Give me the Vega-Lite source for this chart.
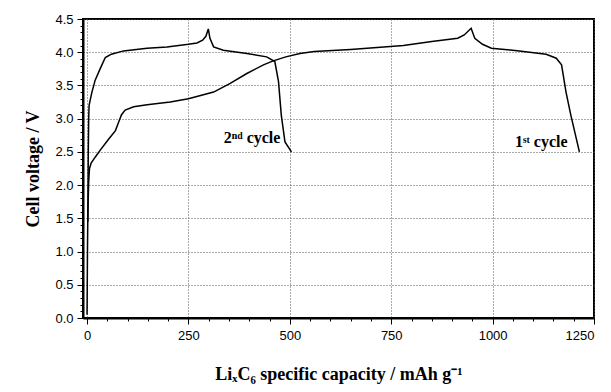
{
  "$schema": "https://vega.github.io/schema/vega-lite/v6.json",
  "autosize": {"type": "none"},
  "padding": {"left": 83, "top": 19, "right": 17, "bottom": 74},
  "width": 511,
  "height": 299,
  "background": "white",
  "config": {"font": "Liberation Sans", "view": {"stroke": "black", "strokeWidth": 2}},
  "datasets": {
    "curves": [
      {"cycle": "1st", "i": 1, "q": 0, "v": 0.05},
      {"cycle": "1st", "i": 2, "q": 1, "v": 1.0},
      {"cycle": "1st", "i": 3, "q": 2, "v": 1.6},
      {"cycle": "1st", "i": 4, "q": 4, "v": 2.05},
      {"cycle": "1st", "i": 5, "q": 6, "v": 2.25},
      {"cycle": "1st", "i": 6, "q": 10, "v": 2.33},
      {"cycle": "1st", "i": 7, "q": 20, "v": 2.42},
      {"cycle": "1st", "i": 8, "q": 33, "v": 2.53},
      {"cycle": "1st", "i": 9, "q": 53, "v": 2.69},
      {"cycle": "1st", "i": 10, "q": 70, "v": 2.82},
      {"cycle": "1st", "i": 11, "q": 78, "v": 2.95},
      {"cycle": "1st", "i": 12, "q": 85, "v": 3.06},
      {"cycle": "1st", "i": 13, "q": 94, "v": 3.13},
      {"cycle": "1st", "i": 14, "q": 115, "v": 3.18},
      {"cycle": "1st", "i": 15, "q": 148, "v": 3.21},
      {"cycle": "1st", "i": 16, "q": 205, "v": 3.25},
      {"cycle": "1st", "i": 17, "q": 250, "v": 3.3},
      {"cycle": "1st", "i": 18, "q": 312, "v": 3.4},
      {"cycle": "1st", "i": 19, "q": 353, "v": 3.53},
      {"cycle": "1st", "i": 20, "q": 394, "v": 3.68},
      {"cycle": "1st", "i": 21, "q": 435, "v": 3.81},
      {"cycle": "1st", "i": 22, "q": 459, "v": 3.87},
      {"cycle": "1st", "i": 23, "q": 490, "v": 3.93},
      {"cycle": "1st", "i": 24, "q": 525, "v": 3.98},
      {"cycle": "1st", "i": 25, "q": 560, "v": 4.01},
      {"cycle": "1st", "i": 26, "q": 650, "v": 4.04},
      {"cycle": "1st", "i": 27, "q": 780, "v": 4.1},
      {"cycle": "1st", "i": 28, "q": 850, "v": 4.16},
      {"cycle": "1st", "i": 29, "q": 914, "v": 4.21},
      {"cycle": "1st", "i": 30, "q": 930, "v": 4.26},
      {"cycle": "1st", "i": 31, "q": 947, "v": 4.36},
      {"cycle": "1st", "i": 32, "q": 956, "v": 4.21},
      {"cycle": "1st", "i": 33, "q": 975, "v": 4.12},
      {"cycle": "1st", "i": 34, "q": 997, "v": 4.06},
      {"cycle": "1st", "i": 35, "q": 1066, "v": 4.02},
      {"cycle": "1st", "i": 36, "q": 1132, "v": 3.97},
      {"cycle": "1st", "i": 37, "q": 1157, "v": 3.91},
      {"cycle": "1st", "i": 38, "q": 1170, "v": 3.81},
      {"cycle": "1st", "i": 39, "q": 1181, "v": 3.4},
      {"cycle": "1st", "i": 40, "q": 1193, "v": 3.05},
      {"cycle": "1st", "i": 41, "q": 1214, "v": 2.5},
      {"cycle": "2nd", "i": 1, "q": 2, "v": 1.45},
      {"cycle": "2nd", "i": 2, "q": 3, "v": 2.5},
      {"cycle": "2nd", "i": 3, "q": 4, "v": 3.0},
      {"cycle": "2nd", "i": 4, "q": 5, "v": 3.2},
      {"cycle": "2nd", "i": 5, "q": 12, "v": 3.4},
      {"cycle": "2nd", "i": 6, "q": 20, "v": 3.58},
      {"cycle": "2nd", "i": 7, "q": 33, "v": 3.76},
      {"cycle": "2nd", "i": 8, "q": 45, "v": 3.92},
      {"cycle": "2nd", "i": 9, "q": 60, "v": 3.97},
      {"cycle": "2nd", "i": 10, "q": 90, "v": 4.02},
      {"cycle": "2nd", "i": 11, "q": 148, "v": 4.06},
      {"cycle": "2nd", "i": 12, "q": 197, "v": 4.08},
      {"cycle": "2nd", "i": 13, "q": 250, "v": 4.12},
      {"cycle": "2nd", "i": 14, "q": 271, "v": 4.14},
      {"cycle": "2nd", "i": 15, "q": 285, "v": 4.18},
      {"cycle": "2nd", "i": 16, "q": 293, "v": 4.24},
      {"cycle": "2nd", "i": 17, "q": 299, "v": 4.35},
      {"cycle": "2nd", "i": 18, "q": 303, "v": 4.21},
      {"cycle": "2nd", "i": 19, "q": 312, "v": 4.08},
      {"cycle": "2nd", "i": 20, "q": 336, "v": 4.03},
      {"cycle": "2nd", "i": 21, "q": 394, "v": 3.98},
      {"cycle": "2nd", "i": 22, "q": 443, "v": 3.93},
      {"cycle": "2nd", "i": 23, "q": 463, "v": 3.86},
      {"cycle": "2nd", "i": 24, "q": 472, "v": 3.56},
      {"cycle": "2nd", "i": 25, "q": 479, "v": 3.05},
      {"cycle": "2nd", "i": 26, "q": 488, "v": 2.65},
      {"cycle": "2nd", "i": 27, "q": 504, "v": 2.5}
    ],
    "labels": [
      {"q": 407, "v": 2.71, "text": "2ⁿᵈ cycle"},
      {"q": 1120, "v": 2.65, "text": "1ˢᵗ cycle"}
    ]
  },
  "encoding": {
    "x": {
      "field": "q", "type": "quantitative",
      "scale": {"domain": [-10, 1250], "nice": false, "zero": false},
      "axis": {
        "orient": "bottom",
        "values": [0, 50, 100, 150, 200, 250, 300, 350, 400, 450, 500, 550, 600, 650, 700, 750, 800, 850, 900, 950, 1000, 1050, 1100, 1150, 1200, 1250],
        "format": "d",
        "labelExpr": "datum.value % 250 === 0 ? datum.label : ''",
        "grid": true, "gridColor": "#555", "gridDash": [1, 2], "gridWidth": 1,
        "gridOpacity": {"condition": {"test": "datum.value % 250 === 0", "value": 1}, "value": 0},
        "domain": true, "domainColor": "black", "domainWidth": 2,
        "tickSize": {"condition": {"test": "datum.value % 250 === 0", "value": 6}, "value": 3},
        "tickColor": "black", "tickWidth": 1,
        "labelFont": "Liberation Sans", "labelFontSize": 13, "labelColor": "black", "labelPadding": 5,
        "labelOverlap": false,
        "title": "LiₓC₆ specific capacity / mAh g⁻¹",
        "titleFont": "Liberation Serif", "titleFontSize": 18, "titleFontWeight": "bold", "titleColor": "black",
        "titlePadding": 23
      }
    },
    "y": {
      "field": "v", "type": "quantitative",
      "scale": {"domain": [0, 4.5], "nice": false},
      "axis": {
        "orient": "left",
        "values": [0, 0.1, 0.2, 0.3, 0.4, 0.5, 0.6, 0.7, 0.8, 0.9, 1, 1.1, 1.2, 1.3, 1.4, 1.5, 1.6, 1.7, 1.8, 1.9, 2, 2.1, 2.2, 2.3, 2.4, 2.5, 2.6, 2.7, 2.8, 2.9, 3, 3.1, 3.2, 3.3, 3.4, 3.5, 3.6, 3.7, 3.8, 3.9, 4, 4.1, 4.2, 4.3, 4.4, 4.5],
        "format": ".1f",
        "labelExpr": "abs(datum.value * 2 - round(datum.value * 2)) < 0.001 ? datum.label : ''",
        "grid": true, "gridColor": "#555", "gridDash": [1, 2], "gridWidth": 1,
        "gridOpacity": {"condition": {"test": "abs(datum.value * 2 - round(datum.value * 2)) < 0.001", "value": 1}, "value": 0},
        "domain": true, "domainColor": "black", "domainWidth": 2,
        "tickSize": {"condition": {"test": "abs(datum.value * 2 - round(datum.value * 2)) < 0.001", "value": 6}, "value": 3},
        "tickColor": "black", "tickWidth": 1,
        "labelFont": "Liberation Sans", "labelFontSize": 13, "labelColor": "black", "labelPadding": 4,
        "labelOverlap": false,
        "title": "Cell voltage / V",
        "titleFont": "Liberation Serif", "titleFontSize": 18, "titleFontWeight": "bold", "titleColor": "black",
        "titlePadding": 12
      }
    }
  },
  "layer": [
    {
      "data": {"name": "curves"},
      "mark": {"type": "line", "color": "black", "strokeWidth": 1.5},
      "encoding": {
        "detail": {"field": "cycle"},
        "order": {"field": "i", "type": "quantitative"}
      }
    },
    {
      "data": {"name": "labels"},
      "mark": {"type": "text", "font": "Liberation Serif", "fontSize": 16, "fontWeight": "bold", "color": "black", "align": "center", "baseline": "middle"},
      "encoding": {
        "text": {"field": "text"}
      }
    }
  ]
}
